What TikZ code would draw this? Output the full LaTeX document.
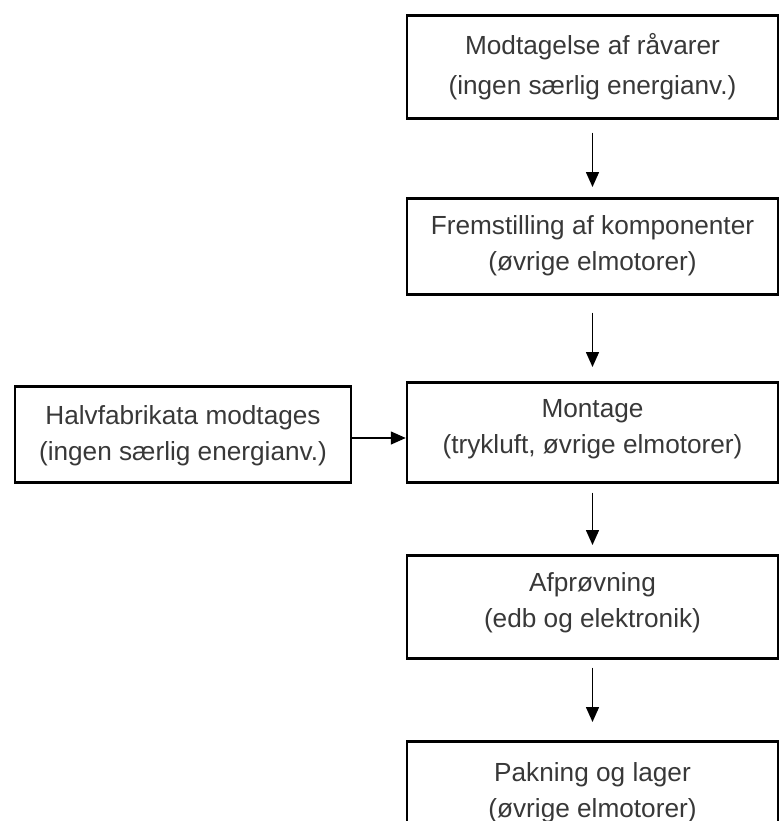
\documentclass[tikz,border=0pt]{standalone}
\usepackage{fontspec}
\setmainfont{Liberation Sans}
\usetikzlibrary{arrows.meta}

\tikzset{
  trin/.style={draw, line width=1.25pt, inner xsep=2pt, inner ysep=0pt,
    align=center, text=black!78, font=\fontsize{13.1}{18}\selectfont,
    minimum width=185.5pt, anchor=north},
  pil/.style={-{Triangle[length=7.5pt,width=6.5pt]}, line width=0.75pt}
}

\begin{document}
\begin{tikzpicture}[x=0.5pt,y=-0.5pt]
    \useasboundingbox (0,0) rectangle (780,821);
    % hovedstrengen (text height regnes til sidste linjes grundlinje)
    \node[trin, font=\fontsize{13.1}{20}\selectfont, text height=39.65pt, text depth=11.85pt] (raavarer) at (592.5,14)
        {Modtagelse af råvarer\\(ingen særlig energianv.)};
    \node[trin, text height=36.15pt, text depth=11.85pt] (komp) at (592.5,197)
        {Fremstilling af komponenter\\(øvrige elmotorer)};
    \node[trin, text height=35.85pt, text depth=14.15pt] (mont) at (592.5,381)
        {Montage\\(trykluft, øvrige elmotorer)};
    \node[trin, text height=36pt, text depth=15.5pt] (afpr) at (592.5,554)
        {Afprøvning\\(edb og elektronik)};
    \node[trin, text height=38pt, text depth=15.5pt] (pakn) at (592.5,740)
        {Pakning og lager\\(øvrige elmotorer)};
    % sidegren
    \node[trin, minimum width=168pt, text height=37.15pt, text depth=10.85pt] (halv) at (183,385)
        {Halvfabrikata modtages\\(ingen særlig energianv.)};

    \draw[pil, shorten <=6.5pt, shorten >=5pt] (raavarer) -- (komp);
    \draw[pil, shorten <=8.5pt, shorten >=7pt] (komp) -- (mont);
    \draw[pil, shorten <=4.5pt, shorten >=4.5pt] (mont) -- (afpr);
    \draw[pil, shorten <=4pt, shorten >=9pt] (afpr) -- (pakn);
    \draw[pil] (halv.east |- 0,438) -- (mont.west |- 0,438);
\end{tikzpicture}
\end{document}
